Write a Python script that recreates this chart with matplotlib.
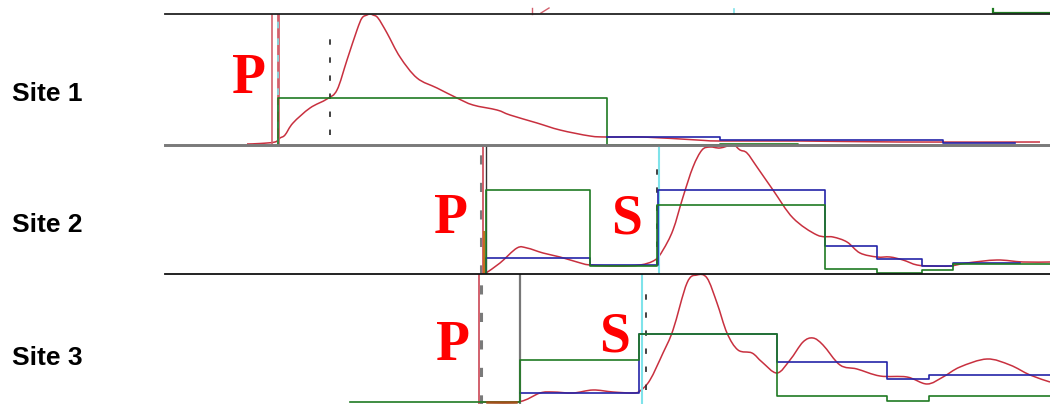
import matplotlib
matplotlib.use("Agg")
import matplotlib.pyplot as plt
from matplotlib.path import Path
from matplotlib.patches import PathPatch

W, H = 1050, 404

# ---------------- Site 1 ----------------
s1_t = [82, 95, 110, 115, 120, 128, 145, 162, 172, 182, 192, 197, 202, 205, 208, 213,
        222, 235, 252, 272, 292, 308, 332, 345, 372, 395, 425, 442, 478, 532, 555, 635, 735, 875]
s1_amp = [1, 1.5, 3, 7, 10, 22, 37, 46, 55, 85, 115, 127, 130, 131, 130, 127,
          112, 88, 67, 57, 47, 40, 35, 30, 22, 15, 9, 8, 8, 5, 4, 4, 3, 3]
s1_green_t = [113, 442, 555, 633]
s1_green_v = [47, 0, 1, 0]
s1_blue_t = [442, 555, 778, 850]
s1_blue_v = [8, 5, 2, 2]
s1_p_lines = [107, 113]
s1_marker = 165

# ---------------- Site 2 ----------------
s2_t = [321, 335, 352, 362, 378, 395, 412, 425, 452, 475, 490, 498, 508, 518, 528, 537,
        545, 555, 568, 575, 582, 592, 608, 628, 652, 668, 682, 695, 712, 725, 738, 752,
        768, 785, 802, 832, 858, 885]
s2_amp = [1, 11, 26, 26, 21, 17, 12, 9, 8, 9, 14, 24, 44, 77, 107, 124,
          127, 126, 129, 124, 121, 107, 84, 56, 39, 37, 32, 21, 17, 17, 14, 9,
          8, 8, 11, 14, 12, 12]
s2_green_t = [321, 425, 492, 660, 712, 757, 788, 885]
s2_green_v = [84, 8, 69, 5, 1, 4, 10, 10]
s2_blue_t = [321, 425, 493, 660, 712, 757, 788, 855]
s2_blue_v = [16, 9, 84, 28, 15, 8, 11, 11]
s2_p_line = 318
s2_start = 321
s2_s_line = 494
s2_marker = 492

# ---------------- Site 3 ----------------
s3_t = [315, 353, 375, 388, 408, 428, 448, 468, 475, 485, 498, 508, 522, 532, 542, 552,
        562, 573, 587, 597, 612, 625, 638, 648, 658, 675, 692, 715, 742, 762, 778, 795,
        822, 845, 865, 885]
s3_amp = [2, 2, 11, 12, 11, 14, 12, 11, 13, 24, 51, 74, 121, 129, 126, 101,
          71, 54, 51, 42, 31, 44, 62, 66, 59, 39, 35, 28, 27, 20, 27, 37,
          45, 39, 29, 22]
s3_green_t = [185, 355, 474, 612, 722, 764, 885]
s3_green_v = [2, 44, 70, 8, 3, 8, 8]
s3_blue_t = [355, 474, 612, 722, 764, 885]
s3_blue_v = [11, 70, 42, 25, 29, 29]
s3_p_line = 314
s3_start = 355
s3_s_line = 477
s3_marker = 481

site_labels = ["Site 1", "Site 2", "Site 3"]
label_y = [94, 225, 358]

RED = "#c8303f"
GREEN = "#1f7a22"
BLUE = "#2424a8"
CYAN = "#7fe3ea"
PINK = "#d2606c"

fig = plt.figure(figsize=(W / 100, H / 100), dpi=100)


def panel(top_px, bottom_px, spine_color, spine_lw):
    h = bottom_px - top_px
    ax = fig.add_axes([165 / W, (H - bottom_px) / H, 885 / W, h / H])
    ax.set_xlim(0, 885)
    ax.set_ylim(0, h)
    ax.set_xticks([])
    ax.set_yticks([])
    ax.patch.set_alpha(0)
    for side in ("left", "right", "bottom"):
        ax.spines[side].set_visible(False)
    ax.spines["top"].set_color(spine_color)
    ax.spines["top"].set_linewidth(spine_lw)
    return ax, h


def smooth_trace(ax, t, v, **kw):
    """Draw the trace through its samples as a Catmull-Rom curve (cubic Bezier path)."""
    pts = list(zip(t, v))
    verts = [pts[0]]
    codes = [Path.MOVETO]
    n = len(pts)
    for i in range(n - 1):
        p0 = pts[i - 1] if i > 0 else pts[i]
        p1 = pts[i]
        p2 = pts[i + 1]
        p3 = pts[i + 2] if i + 2 < n else pts[i + 1]
        c1 = (p1[0] + (p2[0] - p0[0]) / 6, p1[1] + (p2[1] - p0[1]) / 6)
        c2 = (p2[0] - (p3[0] - p1[0]) / 6, p2[1] - (p3[1] - p1[1]) / 6)
        verts += [c1, c2, p2]
        codes += [Path.CURVE4] * 3
    ax.add_patch(PathPatch(Path(verts, codes), fill=False, **kw))


dash_black = dict(color="#333333", lw=1.3, ls=(0, (3, 7)))
dash_gray = dict(color="#7a7a7a", lw=2.2, ls=(0, (3, 6)))

# Site 1 panel
ax1, h1 = panel(14, 145, "#222222", 1.3)
ax1.axhline(0, color="#8a8a8a", lw=2.0, clip_on=False, zorder=1)
ax1.axvline(s1_p_lines[0], color=PINK, lw=1.2)
ax1.axvline(s1_p_lines[1], color=PINK, lw=2.0)
ax1.axvline(s1_p_lines[1], color=CYAN, lw=1.2, ls=(0, (4, 6)))
ax1.plot([s1_marker, s1_marker], [10, 115], **dash_black)
ax1.step([s1_p_lines[1]] + s1_green_t, [0] + s1_green_v, where="post", color=GREEN, lw=1.2)
ax1.step(s1_blue_t, s1_blue_v, where="post", color=BLUE, lw=1.2)
smooth_trace(ax1, s1_t, s1_amp, edgecolor=RED, lw=1.1)
# traces spilling over from the panel above
ax1.plot([569, 569], [131, 136], color=CYAN, lw=1.2, clip_on=False)
ax1.plot([828, 828, 885], [136, 132, 132], color=GREEN, lw=1.6, clip_on=False)
ax1.plot([367, 367], [131, 137], color=PINK, lw=1.0, clip_on=False)
ax1.plot([376, 384], [132, 137], color=PINK, lw=1.0, clip_on=False)

# Site 2 panel
ax2, h2 = panel(145, 274, "#7a7a7a", 2.0)
ax2.axvline(s2_p_line - 2, **dash_gray)
ax2.axvline(s2_p_line, color=PINK, lw=1.4)
ax2.plot([s2_p_line + 1, s2_p_line + 1], [0, 42], color="#c07020", lw=1.5)
ax2.axvline(s2_start, color="#333333", lw=1.0)
ax2.axvline(s2_s_line, color=CYAN, lw=1.5)
ax2.plot([s2_marker, s2_marker], [9, 114], **dash_black)
ax2.step([s2_start] + s2_blue_t, [0] + s2_blue_v, where="post", color=BLUE, lw=1.2)
ax2.step([s2_start] + s2_green_t, [0] + s2_green_v, where="post", color=GREEN, lw=1.2)
smooth_trace(ax2, s2_t, s2_amp, edgecolor=RED, lw=1.1)

# Site 3 panel
ax3, h3 = panel(274, 404, "#111111", 1.3)
ax3.axvline(s3_p_line + 2, **dash_gray)
ax3.axvline(s3_p_line, color=PINK, lw=1.4)
ax3.axvline(s3_start, color="#777777", lw=1.6)
ax3.axvline(s3_s_line, color=CYAN, lw=1.5)
ax3.plot([s3_marker, s3_marker], [14, 114], **dash_black)
ax3.step(s3_blue_t, s3_blue_v, where="post", color=BLUE, lw=1.2)
ax3.step(s3_green_t, s3_green_v, where="post", color=GREEN, lw=1.2)
ax3.plot([s3_p_line + 8, s3_start - 4], [2, 2], color="#a0501a", lw=1.8)
smooth_trace(ax3, s3_t, s3_amp, edgecolor=RED, lw=1.1)

# Site names
for name, y in zip(site_labels, label_y):
    fig.text(12 / W, 1 - y / H, name, ha="left", va="center",
             fontsize=19, fontweight="bold", family="Liberation Sans")

# Phase picks
phase_marks = [("P", 249, 93), ("P", 451, 233), ("S", 626, 234),
               ("P", 453, 360), ("S", 614, 352)]
for ch, x, base in phase_marks:
    fig.text(x / W, 1 - base / H, ch, ha="center", va="baseline", color="#ff0000",
             fontsize=40, fontweight="bold", family="Liberation Serif")

fig.savefig("out.png", dpi=100)
